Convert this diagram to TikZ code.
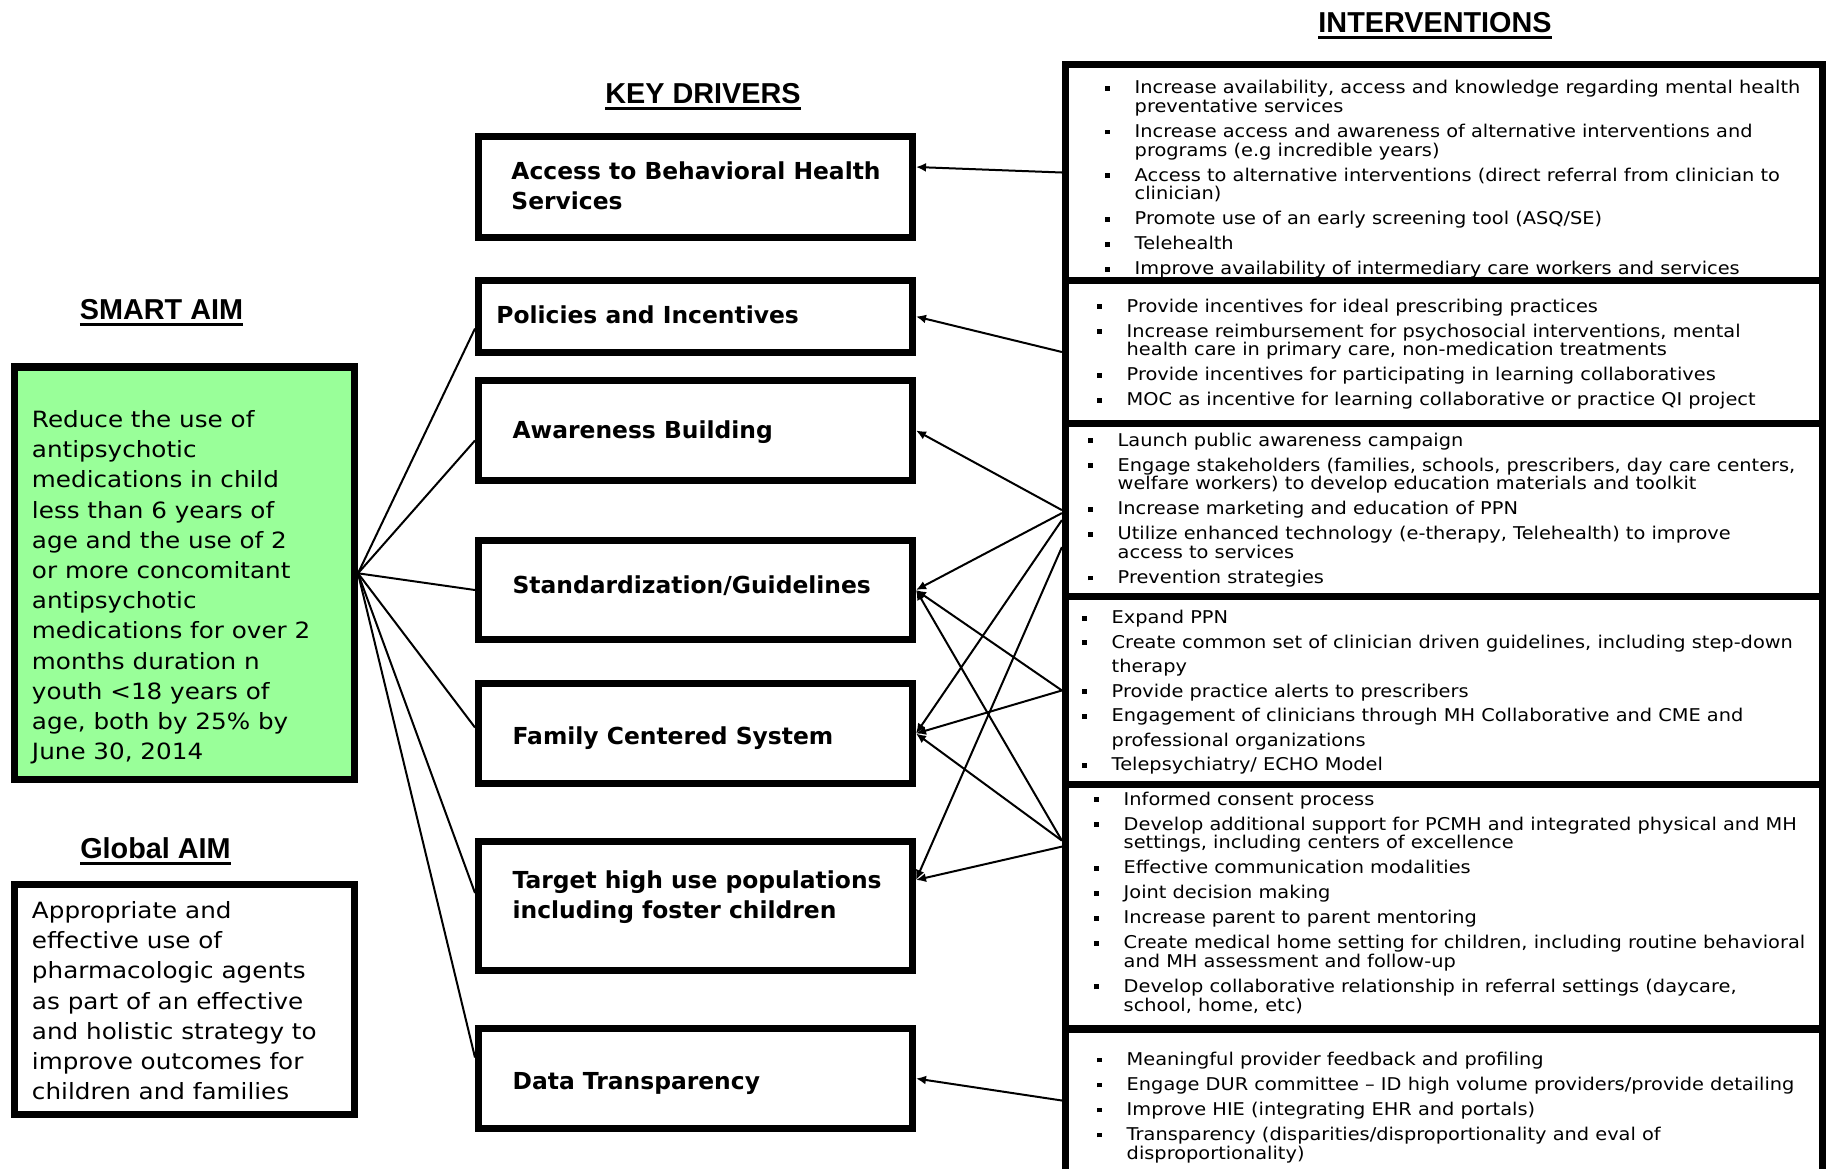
\documentclass[tikz,border=0pt]{standalone}
\usepackage{fontspec}
\setmainfont{DejaVu Sans}[FakeStretch=1.1]
\newfontfamily\drvfont{DejaVu Sans}
\newfontfamily\headfont{Liberation Sans}
\usetikzlibrary{arrows.meta}
\definecolor{aimgreen}{HTML}{99FF99}
\newcommand{\bul}{\makebox[15pt][l]{\rule[1.6pt]{2.4pt}{2.4pt}}}
\newcommand{\nob}{\hspace*{15pt}}
\newcommand{\headul}[1]{\setbox0=\hbox{#1}\rlap{\rule[-3.25pt]{\wd0}{1.5pt}}\box0}

\tikzset{
  thickbox/.style={draw, line width=3.6pt},
  aim/.style={thickbox, minimum width=169.9pt},
  drv/.style={thickbox, minimum width=216.9pt},
  intv/.style={thickbox, minimum width=378.75pt},
  head/.style={anchor=base, inner sep=0pt, font=\headfont\bfseries\fontsize{14.4}{17}\selectfont},
  aimtxt/.style={anchor=west, align=left, inner sep=0pt, font=\fontsize{11.2}{15.1}\selectfont},
  drvtxt/.style={anchor=west, align=left, inner sep=0pt, font=\drvfont\bfseries\fontsize{11.7}{15}\selectfont},
  itxt/.style={anchor=west, align=left, inner sep=0pt, font=\fontsize{8.8}{9.35}\selectfont},
  arr/.style={-{Latex[length=5pt,width=4.5pt]}, line width=1pt},
  link/.style={line width=1pt},
}

\begin{document}
\begin{tikzpicture}[x=0.5pt, y=-0.5pt]
	\useasboundingbox (0,0) rectangle (1826,1168);

	% headings
	\node[head] (interhead) at (1435,32) {\headul{INTERVENTIONS}};
	\node[head] (keyhead) at (703,103) {\headul{KEY DRIVERS}};
	\node[head] (smarthead) at (161.5,319) {\headul{SMART AIM}};
	\node[head] (globalhead) at (155.5,858) {\headul{Global AIM}};

	% aims
	\node[aim, fill=aimgreen, minimum height=206.4pt] (smart) at (184.5,573.3) {};
	\node[aimtxt] (smarttxt) at ([xshift=10.3pt,yshift=-7pt]smart.west) {Reduce the use of\\antipsychotic\\medications in child\\less than 6 years of\\age and the use of 2\\or more concomitant\\antipsychotic\\medications for over 2\\months duration n\\youth <18 years of\\age, both by 25\% by\\June 30, 2014};
	\node[aim, minimum height=115pt] (global) at (184.5,999.7) {};
	\node[aimtxt] (globaltxt) at ([xshift=10.3pt,yshift=-0.5pt]global.west) {Appropriate and\\effective use of\\pharmacologic agents\\as part of an effective\\and holistic strategy to\\improve outcomes for\\children and families};

	% key drivers
	\node[drv, minimum height=50.4pt] (access) at (695.5,187) {};
	\node[drvtxt] (accesstxt) at ([xshift=18pt,yshift=0.8pt]access.west) {Access to Behavioral Health\\Services};
	\node[drv, minimum height=35.9pt] (policies) at (695.5,316.5) {};
	\node[drvtxt] (policiestxt) at ([xshift=10.5pt,yshift=1pt]policies.west) {Policies and Incentives};
	\node[drv, minimum height=49.9pt] (awareness) at (695.5,430.5) {};
	\node[drvtxt] (awarenesstxt) at ([xshift=18.6pt,yshift=-1pt]awareness.west) {Awareness Building};
	\node[drv, minimum height=49.4pt] (standard) at (695.5,590) {};
	\node[drvtxt] (standardtxt) at ([xshift=18.6pt,yshift=2pt]standard.west) {Standardization/Guidelines};
	\node[drv, minimum height=49.9pt] (family) at (695.5,733.5) {};
	\node[drvtxt] (familytxt) at ([xshift=18.6pt,yshift=-2.5pt]family.west) {Family Centered System};
	\node[drv, minimum height=64.4pt] (target) at (695.5,906) {};
	\node[drvtxt] (targettxt) at ([xshift=18.6pt,yshift=4.5pt]target.west) {Target high use populations\\including foster children};
	\node[drv, minimum height=49.9pt] (data) at (695.5,1078.5) {};
	\node[drvtxt] (datatxt) at ([xshift=18.6pt,yshift=-2.5pt]data.west) {Data Transparency};

	% interventions
	\node[intv, minimum height=108pt] (int1) at (1444.25,172.5) {};
	\node[itxt] (int1txt) at ([xshift=21.2pt,yshift=-3.5pt]int1.west) {\bul Increase availability, access and knowledge regarding mental health\\\nob preventative services\\[3.15pt]\bul Increase access and awareness of alternative interventions and\\\nob programs (e.g incredible years)\\[3.15pt]\bul Access to alternative interventions (direct referral from clinician to\\\nob clinician)\\[3.15pt]\bul Promote use of an early screening tool (ASQ/SE)\\[3.15pt]\bul Telehealth\\[3.15pt]\bul Improve availability of intermediary care workers and services};
	\node[intv, minimum height=71.5pt] (int2) at (1444.25,352) {};
	\node[itxt] (int2txt) at ([xshift=17.2pt,yshift=-1pt]int2.west) {\bul Provide incentives for ideal prescribing practices\\[3.15pt]\bul Increase reimbursement for psychosocial  interventions, mental\\\nob health care in primary care, non-medication treatments\\[3.15pt]\bul Provide incentives for participating in  learning collaboratives\\[3.15pt]\bul MOC as incentive for learning collaborative or practice QI project};
	\node[intv, minimum height=86.6pt] (int3) at (1444.25,510.1) {};
	\node[itxt] (int3txt) at ([xshift=12.7pt]int3.west) {\bul Launch public  awareness campaign\\[3.15pt]\bul Engage stakeholders (families, schools, prescribers, day care centers,\\\nob welfare workers) to develop education materials and toolkit\\[3.15pt]\bul Increase marketing and education of PPN\\[3.15pt]\bul Utilize enhanced  technology (e-therapy, Telehealth) to improve\\\nob access to services\\[3.15pt]\bul Prevention strategies};
	\node[intv, minimum height=93.75pt] (int4) at (1444.25,690.45) {};
	\node[itxt, font=\fontsize{8.8}{12.25}\selectfont] (int4txt) at ([xshift=9.7pt,yshift=-1pt]int4.west) {\bul Expand PPN\\\bul Create common set of clinician driven guidelines, including step-down\\\nob therapy\\\bul Provide practice alerts to prescribers\\\bul Engagement of clinicians through MH Collaborative and CME and\\\nob professional organizations\\\bul Telepsychiatry/ ECHO Model};
	\node[intv, minimum height=122.4pt] (int5) at (1444.25,906.6) {};
	\node[itxt] (int5txt) at ([xshift=15.7pt,yshift=2pt]int5.west) {\bul Informed consent process\\[3.15pt]\bul Develop additional  support for PCMH and integrated physical and MH\\\nob settings, including centers of excellence\\[3.15pt]\bul Effective communication modalities\\[3.15pt]\bul Joint decision making\\[3.15pt]\bul Increase parent to parent mentoring\\[3.15pt]\bul Create medical home setting for children, including routine behavioral\\\nob and MH assessment and follow-up\\[3.15pt]\bul Develop collaborative relationship in referral settings (daycare,\\\nob school, home, etc)};
	\node[intv, minimum height=85.5pt] (int6) at (1444.25,1114.5) {};
	\node[itxt] (int6txt) at ([xshift=17.2pt,yshift=3.5pt]int6.west) {\bul Meaningful provider  feedback and profiling\\[3.15pt]\bul Engage DUR committee -- ID high volume providers/provide detailing\\[3.15pt]\bul Improve HIE (integrating EHR and portals)\\[3.15pt]\bul Transparency (disparities/disproportionality and eval of\\\nob disproportionality)};

	% aim to drivers
	\draw[link] (smart.east) -- ([yshift=-6pt]policies.west);
	\draw[link] (smart.east) -- ([yshift=-5pt]awareness.west);
	\draw[link] (smart.east) -- (standard.west);
	\draw[link] (smart.east) -- ([yshift=3pt]family.west);
	\draw[link] (smart.east) -- ([yshift=6.5pt]target.west);
	\draw[link] (smart.east) -- ([yshift=10.5pt]data.west);

	% interventions to drivers
	\draw[arr] (int1.west) -- ([yshift=10pt]access.east);
	\draw[arr] (int2.west) -- (policies.east);
	\draw[arr] (int3.west) -- (awareness.east);
	\draw[arr] ([yshift=-1.5pt]int3.west) -- (standard.east);
	\draw[arr] ([yshift=-5pt]int3.west) -- (family.east);
	\draw[arr] ([yshift=-18.5pt]int3.west) -- ([yshift=13pt]target.east);
	\draw[arr] (int4.west) -- (standard.east);
	\draw[arr] (int4.west) -- (family.east);
	\draw[arr] ([yshift=33pt]int5.west) -- (standard.east);
	\draw[arr] ([yshift=33pt]int5.west) -- (family.east);
	\draw[arr] ([yshift=30pt]int5.west) -- ([yshift=13pt]target.east);
	\draw[arr] ([yshift=7pt]int6.west) -- (data.east);
\end{tikzpicture}
\end{document}
